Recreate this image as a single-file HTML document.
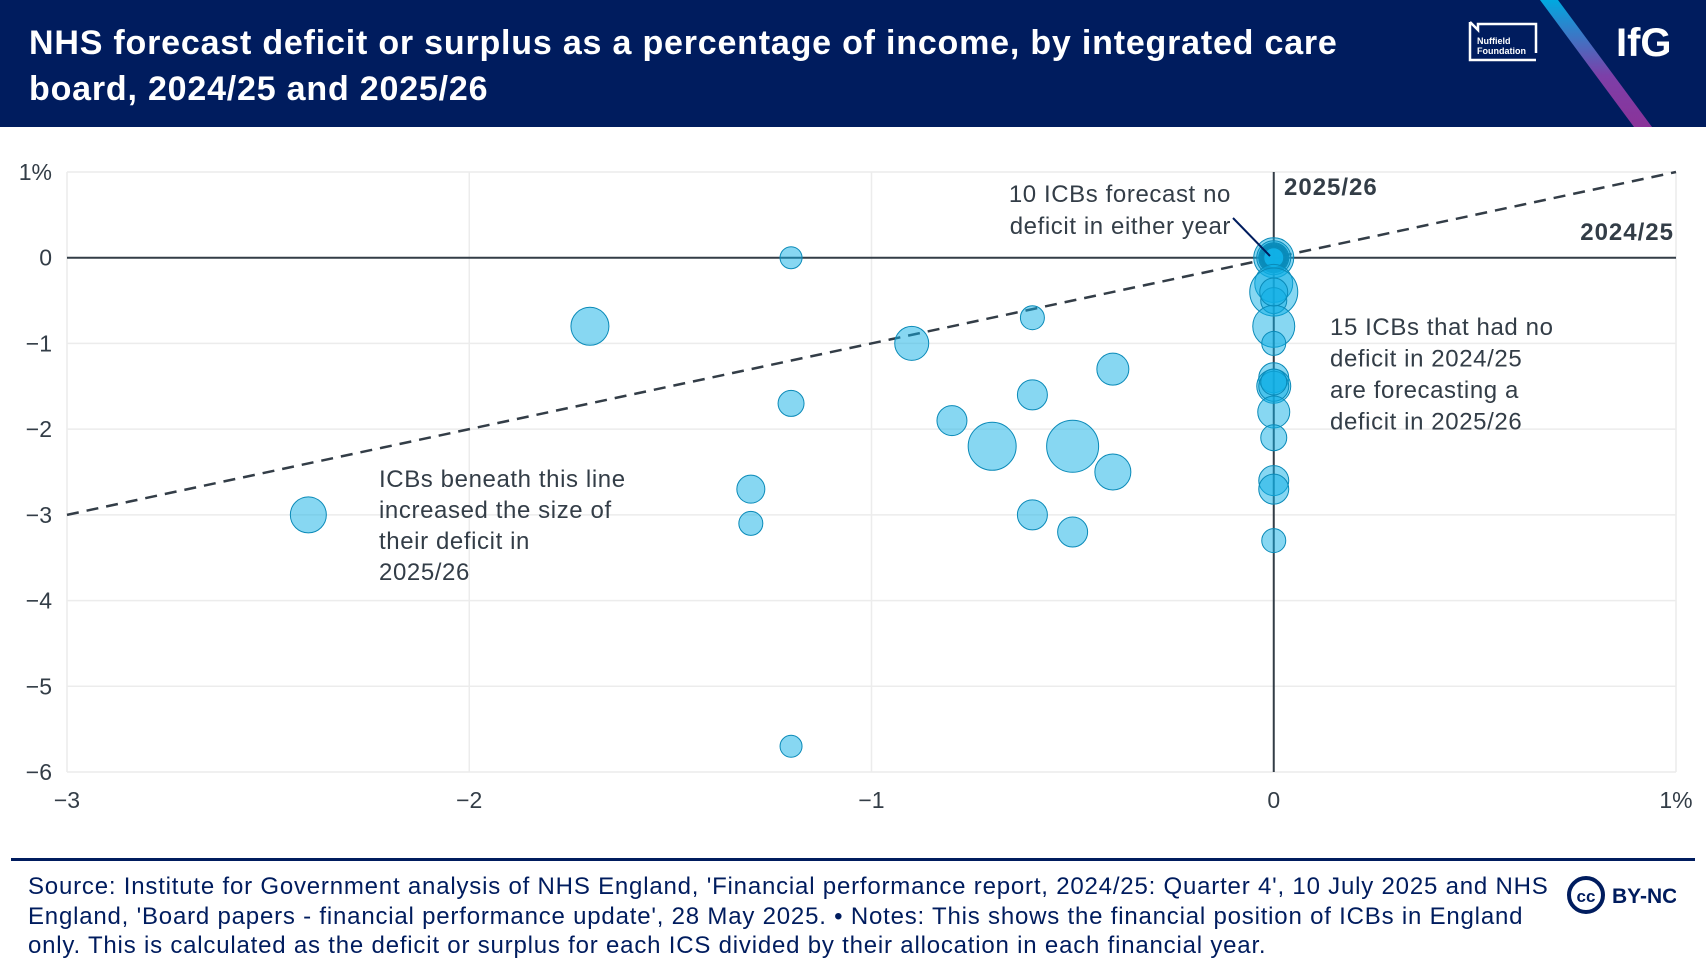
<!DOCTYPE html>
<html><head><meta charset="utf-8">
<style>
body{margin:0;width:1706px;height:978px;background:#fff;font-family:"Liberation Sans",sans-serif;overflow:hidden;position:relative}
#hdr{position:absolute;left:0;top:0;width:1706px;height:127px;background:#001c5e;overflow:hidden}
#title{position:absolute;left:29px;top:20px;color:#fff;font-weight:bold;font-size:34px;line-height:46px;margin:0;letter-spacing:0.8px}
#src{position:absolute;left:28px;top:872px;width:1545px;color:#001c5e;font-size:24px;line-height:29.5px;letter-spacing:0.8px}
#rule{position:absolute;left:11px;top:858px;width:1684px;height:3px;background:#001c5e}
</style></head><body>
<div id="hdr">
<h1 id="title">NHS forecast deficit or surplus as a percentage of income, by integrated care<br>board, 2024/25 and 2025/26</h1>
<svg width="1706" height="127" style="position:absolute;left:0;top:0">
<defs><linearGradient id="g" x1="0" y1="0" x2="0" y2="1"><stop offset="0" stop-color="#00a9e0"/><stop offset="0.6" stop-color="#7d3fa8"/><stop offset="1" stop-color="#8a3399"/></linearGradient></defs>
<polygon points="1540,0 1558,0 1652,127 1634,127" fill="url(#g)"/>
<path d="M1470,22 L1470,60 L1536,60 M1470,22 L1478,30 L1478,24 L1536,24 L1536,53" stroke="#fff" stroke-width="2.5" fill="none"/>
<text x="1477" y="44" fill="#fff" font-size="9" font-weight="bold">Nuffield</text>
<text x="1477" y="54" fill="#fff" font-size="9" font-weight="bold">Foundation</text>
<text x="1616" y="56" fill="#fff" font-size="40" font-weight="bold">IfG</text>
</svg>
</div>
<svg id="chart" width="1706" height="860" style="position:absolute;left:0;top:0"></svg>
<div id="rule"></div>
<div id="src">Source: Institute for Government analysis of NHS England, 'Financial performance report, 2024/25: Quarter 4', 10 July 2025 and NHS England, 'Board papers - financial performance update', 28 May 2025. • Notes: This shows the financial position of ICBs in England only. This is calculated as the deficit or surplus for each ICS divided by their allocation in each financial year.</div>
<svg width="110" height="50" style="position:absolute;left:1566px;top:872px">
<circle cx="20" cy="23" r="17" fill="#fff" stroke="#001c5e" stroke-width="4"/>
<text x="20" y="30" text-anchor="middle" font-size="17" font-weight="bold" fill="#001c5e">cc</text>
<text x="46" y="31" font-size="21" font-weight="bold" fill="#001c5e">BY-NC</text>
</svg>
<script>
const xTicks=[-3,-2,-1,0,1];
const xTickLabels=["−3","−2","−1","0","1%"];
const yTicks=[1,0,-1,-2,-3,-4,-5,-6];
const yTickLabels=["1%","0","−1","−2","−3","−4","−5","−6"];
const fy2425=[-1.2,-1.7,-0.6,-0.9,-0.4,-1.2,-0.6,-0.8,-0.7,-0.5,-0.4,-1.3,-2.4,-0.6,-1.3,-0.5,-1.2,0,0,0,0,0,0,0,0,0,0,0,0,0,0,0,0,0,0,0,0,0,0,0,0,0];
const fy2526=[0,-0.8,-0.7,-1.0,-1.3,-1.7,-1.6,-1.9,-2.2,-2.2,-2.5,-2.7,-3.0,-3.0,-3.1,-3.2,-5.7,0,0,0,0,0,0,0,0,0,0,-0.3,-0.4,-0.5,-0.8,-1.0,-1.4,-1.5,-1.5,-1.8,-2.1,-2.6,-2.7,-3.3,-0.4,-1.45];
const sizes=[11,19,12,17,16,13,15,15,24,26,18,14,18,15,12,15,11,20,17,15,14,13,12,12,11,11,10,19,24,13,21,12,15,17,15,16,13,15,15,12,14,13];
const NS="http://www.w3.org/2000/svg";
const svg=document.getElementById('chart');
const X0=67,X1=1676,Y0=172,Y1=772;
const xs=v=>X0+(v+3)/4*(X1-X0);
const ys=v=>Y0+(1-v)/7*(Y1-Y0);
function mk(t,a,p){const e=document.createElementNS(NS,t);for(const k in a)e.setAttribute(k,a[k]);(p||svg).appendChild(e);return e;}
xTicks.forEach((v,i)=>{
 if(v!==0){const l=mk('line',{x1:xs(v),x2:xs(v),y1:Y0,y2:Y1,stroke:'#ececec','stroke-width':1.5});
 
 }
 const t=mk('text',{x:xs(v),y:808,'text-anchor':'middle','font-size':23,fill:'#333d47'});t.textContent=xTickLabels[i];
 
 
});
yTicks.forEach((v,i)=>{
 if(v!==0){const l=mk('line',{x1:X0,x2:X1,y1:ys(v),y2:ys(v),stroke:'#ececec','stroke-width':1.5});
 
 }
 const t=mk('text',{x:52,y:ys(v)+8,'text-anchor':'end','font-size':23,fill:'#333d47'});t.textContent=yTickLabels[i];
 
 
});
let a=mk('line',{x1:X0,x2:X1,y1:ys(0),y2:ys(0),stroke:'#333d47','stroke-width':2});


a=mk('line',{x1:xs(0),x2:xs(0),y1:Y0,y2:Y1,stroke:'#333d47','stroke-width':2});


a=mk('line',{x1:xs(-3),y1:ys(-3),x2:xs(1),y2:ys(1),stroke:'#333d47','stroke-width':2.5,'stroke-dasharray':'12 8'});


for(let i=0;i<fy2425.length;i++){
 const c=mk('circle',{cx:xs(fy2425[i]),cy:ys(fy2526[i]),r:sizes[i],fill:'rgba(16,176,230,0.5)',stroke:'#0a8ab8','stroke-width':1});
 
 
}
function txt(lines,x,y,anchor,name,bold,lh){
 const t=mk('text',{x:x,y:y,'text-anchor':anchor,'font-size':24,fill:'#333d47','font-weight':bold?'bold':'normal','letter-spacing':bold?1:0.6});
 lines.forEach((s,i)=>{const ts=mk('tspan',{x:x,dy:i?lh:0},t);ts.textContent=s;});
 
 
}
txt(["2025/26"],1284,195,'start','label-2025-26',true,0);
txt(["2024/25"],1674,240,'end','label-2024-25',true,0);
txt(["10 ICBs forecast no","deficit in either year"],1231,202,'end','annotation-no-deficit',false,32);
a=mk('line',{x1:1233,y1:218,x2:1270,y2:256,stroke:'#001c5e','stroke-width':2});


txt(["15 ICBs that had no","deficit in 2024/25","are forecasting a","deficit in 2025/26"],1330,335,'start','annotation-new-deficit',false,31.5);
txt(["ICBs beneath this line","increased the size of","their deficit in","2025/26"],379,487,'start','annotation-below-line',false,31);
</script>
</body></html>
